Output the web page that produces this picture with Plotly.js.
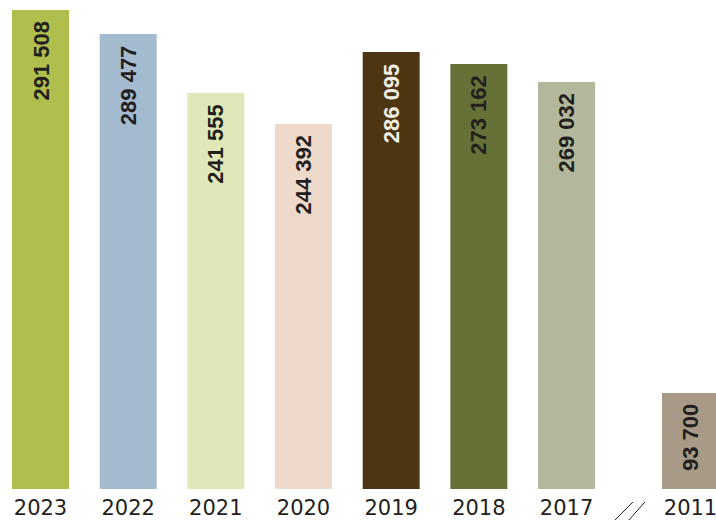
<!DOCTYPE html>
<html>
<head>
<meta charset="utf-8">
<script src="https://cdn.plot.ly/plotly-3.0.1.min.js"></script>
<style>
  html, body { margin: 0; padding: 0; background: #ffffff; }
  #chart { width: 716px; height: 520px; }
</style>
</head>
<body>
<div id="chart"></div>
<script>
// ---- data ----
const years = ["2023", "2022", "2021", "2020", "2019", "2018", "2017", "2011"];
// labelled values
const values = [291508, 289477, 241555, 244392, 286095, 273162, 269032, 93700];
// bar lengths as drawn in the picture (same units)
const barLengths = [291508, 276900, 241000, 222100, 265950, 258650, 247700, 58400];
const barColors = ["#afbe4c", "#a3bacf", "#e0e8b8", "#eed9cb", "#4c3510", "#667137", "#b3b89c", "#a89a86"];
const labelColors = ["#231f20", "#231f20", "#231f20", "#231f20", "#f2efe6", "#231f20", "#231f20", "#231f20"];

// ---- layout helpers ----
const breakGap = 0.414;  // extra space for the axis break before 2011
const xpos = years.map((y, i) => i + (i >= 7 ? breakGap : 0));
const fmt = v => v.toString().replace(/\B(?=(\d{3})+(?!\d))/g, " ");

const trace = {
  type: "bar",
  x: xpos,
  y: barLengths,
  width: 0.65,
  marker: { color: barColors, line: { width: 0 } },
  hoverinfo: "skip"
};

const annotations = xpos.map((x, i) => ({
  x: x, y: barLengths[i], xref: "x", yref: "y",
  text: fmt(values[i]),
  textangle: -90,
  showarrow: false,
  xanchor: "center", yanchor: "top",
  yshift: -9,
  font: { family: "Liberation Sans, Arial, sans-serif", size: 22, color: labelColors[i], weight: "bold" }
}));

// axis-break marks "//" between 2017 and 2011
const shapes = [[6.553, 6.758], [6.712, 6.895]].map(([a, b]) => ({
  type: "line", xref: "x", yref: "paper",
  x0: a, y0: -0.0647, x1: b, y1: -0.0271,
  line: { color: "#231f20", width: 1 }
}));

const layout = {
  width: 716, height: 520,
  margin: { l: 0, r: 0, t: 10, b: 31, pad: 0 },
  paper_bgcolor: "#ffffff", plot_bgcolor: "#ffffff",
  showlegend: false,
  xaxis: {
    range: [-0.462, 7.705],
    tickvals: xpos, ticktext: years,
    showgrid: false, zeroline: false, showline: false, ticks: "",
    ticklabeloverflow: "allow",
    ticklabelstandoff: 4,
    tickfont: { family: "DejaVu Sans, sans-serif", size: 21, color: "#231f20" },
    fixedrange: true
  },
  yaxis: {
    range: [0, 291508],
    visible: false, showgrid: false, zeroline: false, fixedrange: true
  },
  annotations: annotations,
  shapes: shapes
};

Plotly.newPlot("chart", [trace], layout, { displayModeBar: false, staticPlot: true });
</script>
</body>
</html>
